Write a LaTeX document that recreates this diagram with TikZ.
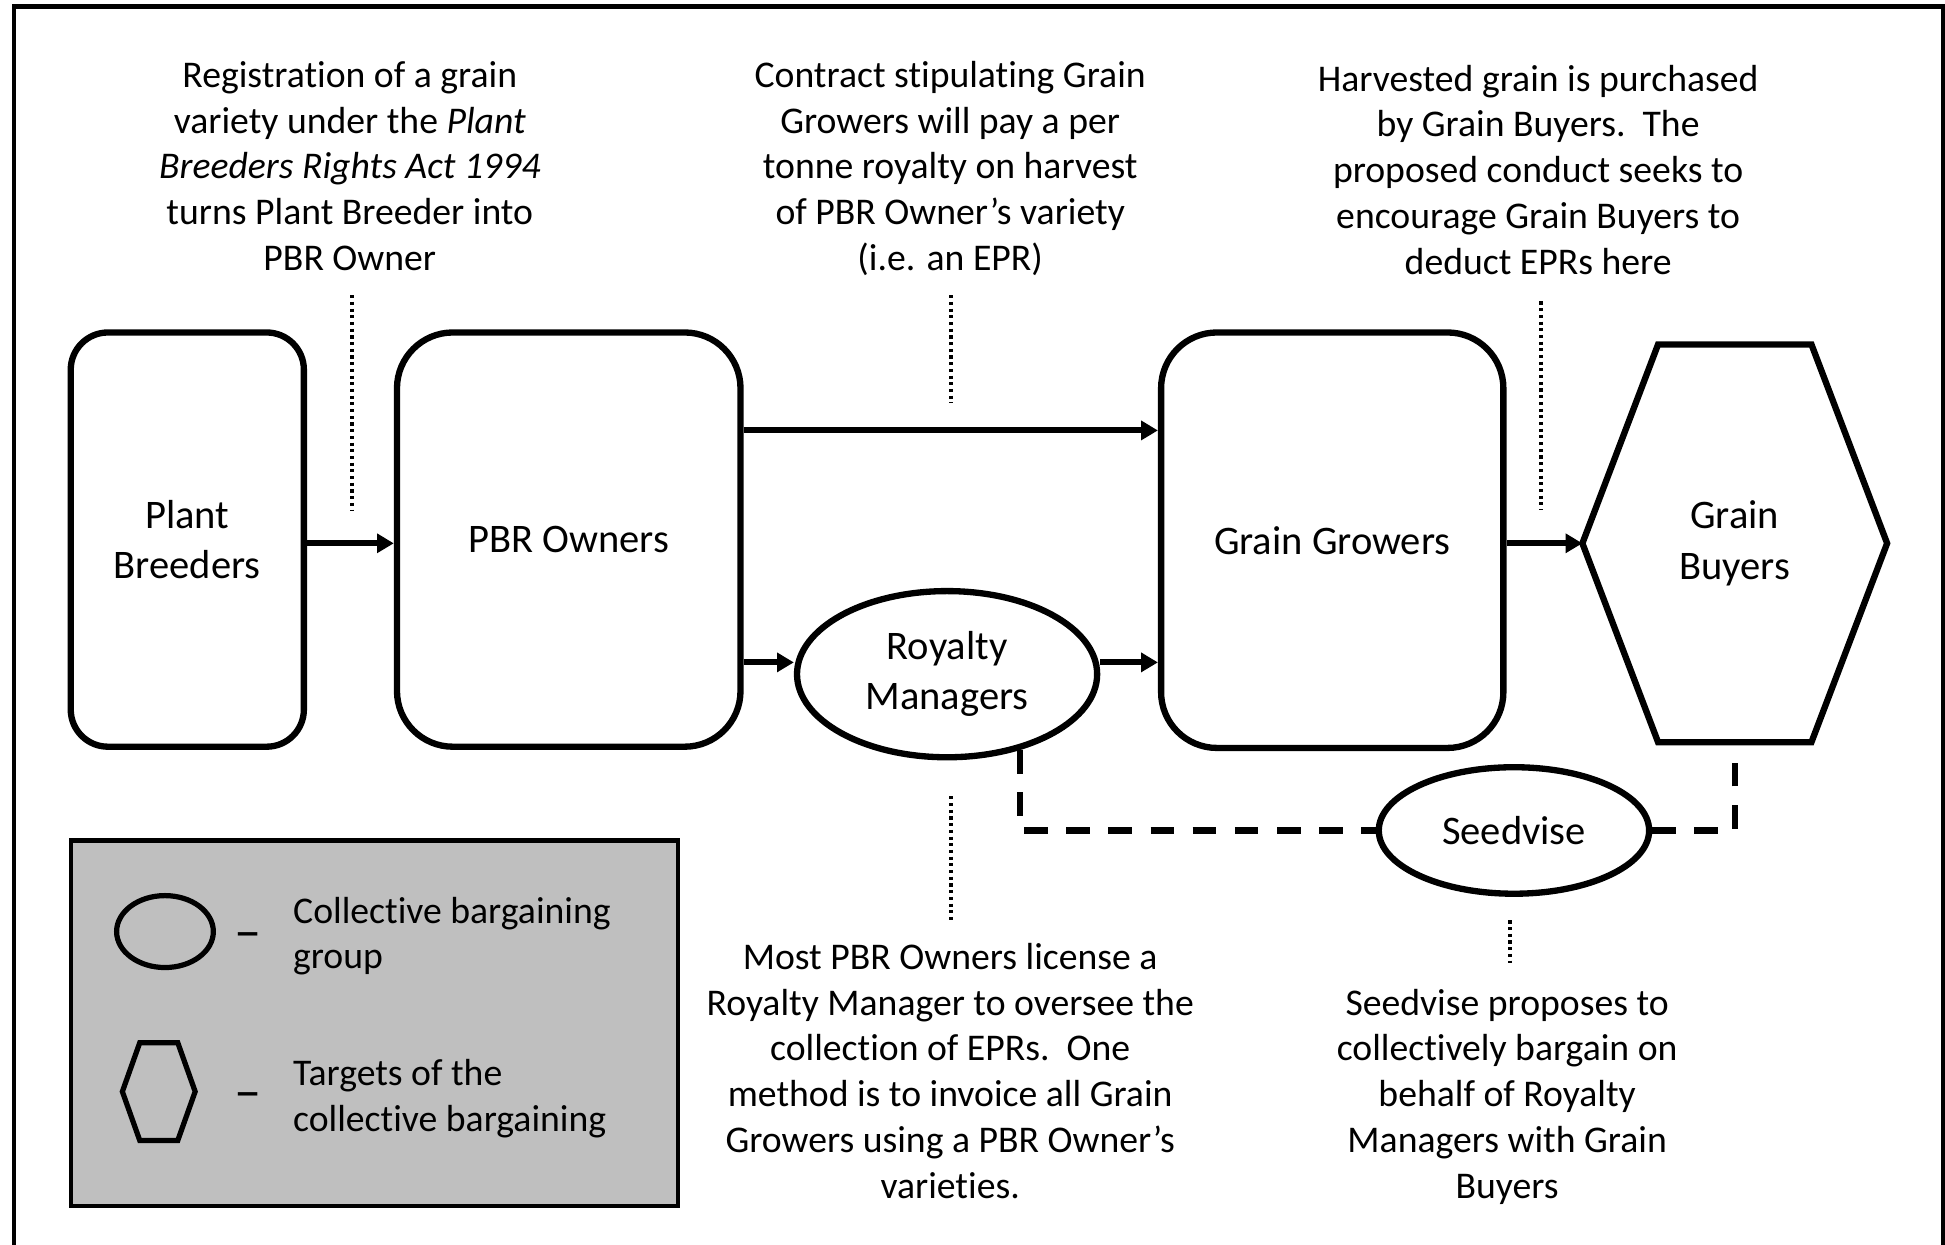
\documentclass[tikz,border=0pt]{standalone}
\usepackage{fontspec}
\setmainfont{Carlito}[Ligatures=NoCommon]
\usetikzlibrary{arrows.meta,calc,shapes.geometric}
\definecolor{lgray}{RGB}{191,191,191}
\newcommand\annfont{\fontsize{17.3pt}{21pt}\selectfont}
\newcommand\bxfont{\fontsize{18.6pt}{23pt}\selectfont}
\newcommand\dashfont{\fontsize{25pt}{28pt}\selectfont}
\begin{document}
\begin{tikzpicture}[x=0.02cm,y=-0.02cm,
  box/.style={draw, line width=2.9pt, rounded corners=0.9cm, align=center, font=\bxfont, inner sep=0pt},
  ell/.style={draw, ellipse, line width=2.9pt, align=center, font=\bxfont, inner sep=0pt},
  ann/.style={align=center, font=\annfont, inner sep=0pt, anchor=base},
  arr/.style={line width=2.8pt, -{Triangle[length=0.27cm,width=0.3cm]}},
  dashln/.style={line width=2.9pt, dash pattern=on 0.38cm off 0.3cm},
  dotln/.style={line width=1.8pt, dash pattern=on 0.05cm off 0.058cm},
  hexln/.style={line width=2.9pt, line join=miter}
]
\useasboundingbox (0,0) rectangle (1568,1003);
\fill[white] (0,0) rectangle (1568,1003);
% outer frame
\draw[line width=1.9pt] (11,1010) -- (11,5.2) -- (1566.5,5.2) -- (1566.5,1010);

% main nodes
\node[box, rounded corners=0.6cm, minimum width=3.76cm, minimum height=6.68cm] (pb) at (151,435) {Plant\\Breeders};
\node[box, minimum width=5.54cm, minimum height=6.68cm] (po) at (458.5,435) {PBR Owners};
\node[box, minimum width=5.52cm, minimum height=6.70cm] (gg) at (1074,435.5) {Grain Growers};
\node[align=center, font=\bxfont, inner sep=0pt, minimum width=4.9cm, minimum height=6.4cm] (gb) at (1398.5,438) {Grain\\Buyers};
\draw[hexln] (gb.west) -- ($(gb.north west)+(61,0)$) -- ($(gb.north east)+(-61,0)$) -- (gb.east) -- ($(gb.south east)+(-61,0)$) -- ($(gb.south west)+(61,0)$) -- cycle;
\node[ell, minimum width=4.84cm, minimum height=2.68cm] (rm) at (763.5,543.5) {Royalty\\Managers};
\node[ell, minimum width=4.36cm, minimum height=2.04cm] (sd) at (1220.5,669.5) {Seedvise};

% arrows
\draw[arr] (pb.east |- 0,438) -- (po.west |- 0,438);
\draw[arr] (po.east |- 0,347) -- (gg.west |- 0,347);
\draw[arr] (po.east |- 0,534) -- (rm.west |- 0,534);
\draw[arr] (rm.east |- 0,534) -- (gg.west |- 0,534);
\draw[arr] (gg.east |- gb.west) -- (gb.west);

% dashed links
\draw[dashln] (rm.-46) |- (sd.west);
\draw[dashln] (sd.east) -| (gb.south);

% annotations (anchor = baseline of last line)
\node[ann] (a1) at (282,218) {Registration of a grain\\variety under the \textit{Plant}\\\textit{Breeders Rights Act 1994}\\turns Plant Breeder into\\PBR Owner};
\node[ann] (a2) at (766,218) {Contract stipulating Grain\\Growers will pay a per\\tonne royalty on harvest\\of PBR Owner’s variety\\(i.e. an EPR)};
\node[ann] (a3) at (1240,221) {Harvested grain is purchased\\by Grain Buyers.\ \ The\\proposed conduct seeks to\\encourage Grain Buyers to\\deduct EPRs here};
\node[ann] (a4) at (766,966) {Most PBR Owners license a\\Royalty Manager to oversee the\\collection of EPRs.\ \ One\\method is to invoice all Grain\\Growers using a PBR Owner’s\\varieties.};
\node[ann] (a5) at (1215,966) {Seedvise proposes to\\collectively bargain on\\behalf of Royalty\\Managers with Grain\\Buyers};

% dotted pointers
\coordinate (d1a) at (284,238); \coordinate (d1b) at (284,412);
\coordinate (d2a) at (767,238); \coordinate (d2b) at (767,325);
\coordinate (d3a) at (1242,243); \coordinate (d3b) at (1242,411);
\coordinate (d4a) at (767,642); \coordinate (d4b) at (767,742);
\coordinate (d5a) at (1217,742); \coordinate (d5b) at (1217,776);
\draw[dotln] (d1a) -- (d1b);
\draw[dotln] (d2a) -- (d2b);
\draw[dotln] (d3a) -- (d3b);
\draw[dotln] (d4a) -- (d4b);
\draw[dotln] (d5a) -- (d5b);

% legend
\node[draw, line width=1.9pt, fill=lgray, minimum width=9.78cm, minimum height=5.9cm, inner sep=0pt] (lg) at (302,825) {};
\node[ell, line width=2.4pt, minimum width=1.56cm, minimum height=1.16cm] (le) at (133,751) {};
\node[inner sep=0pt, minimum width=1.16cm, minimum height=1.56cm] (lh) at (128,880) {};
\draw[hexln, line width=2.4pt] (lh.west) -- ($(lh.north west)+(14,0)$) -- ($(lh.north east)+(-14,0)$) -- (lh.east) -- ($(lh.south east)+(-14,0)$) -- ($(lh.south west)+(14,0)$) -- cycle;
\node[font=\dashfont, inner sep=0pt] (ld1) at (200,759) {–};
\node[font=\dashfont, inner sep=0pt] (ld2) at (200,888) {–};
\node[ann, anchor=base west, align=left] (lt1) at (236,781) {Collective bargaining\\group};
\node[ann, anchor=base west, align=left] (lt2) at (236,912) {Targets of the\\collective bargaining};
\end{tikzpicture}
\end{document}
